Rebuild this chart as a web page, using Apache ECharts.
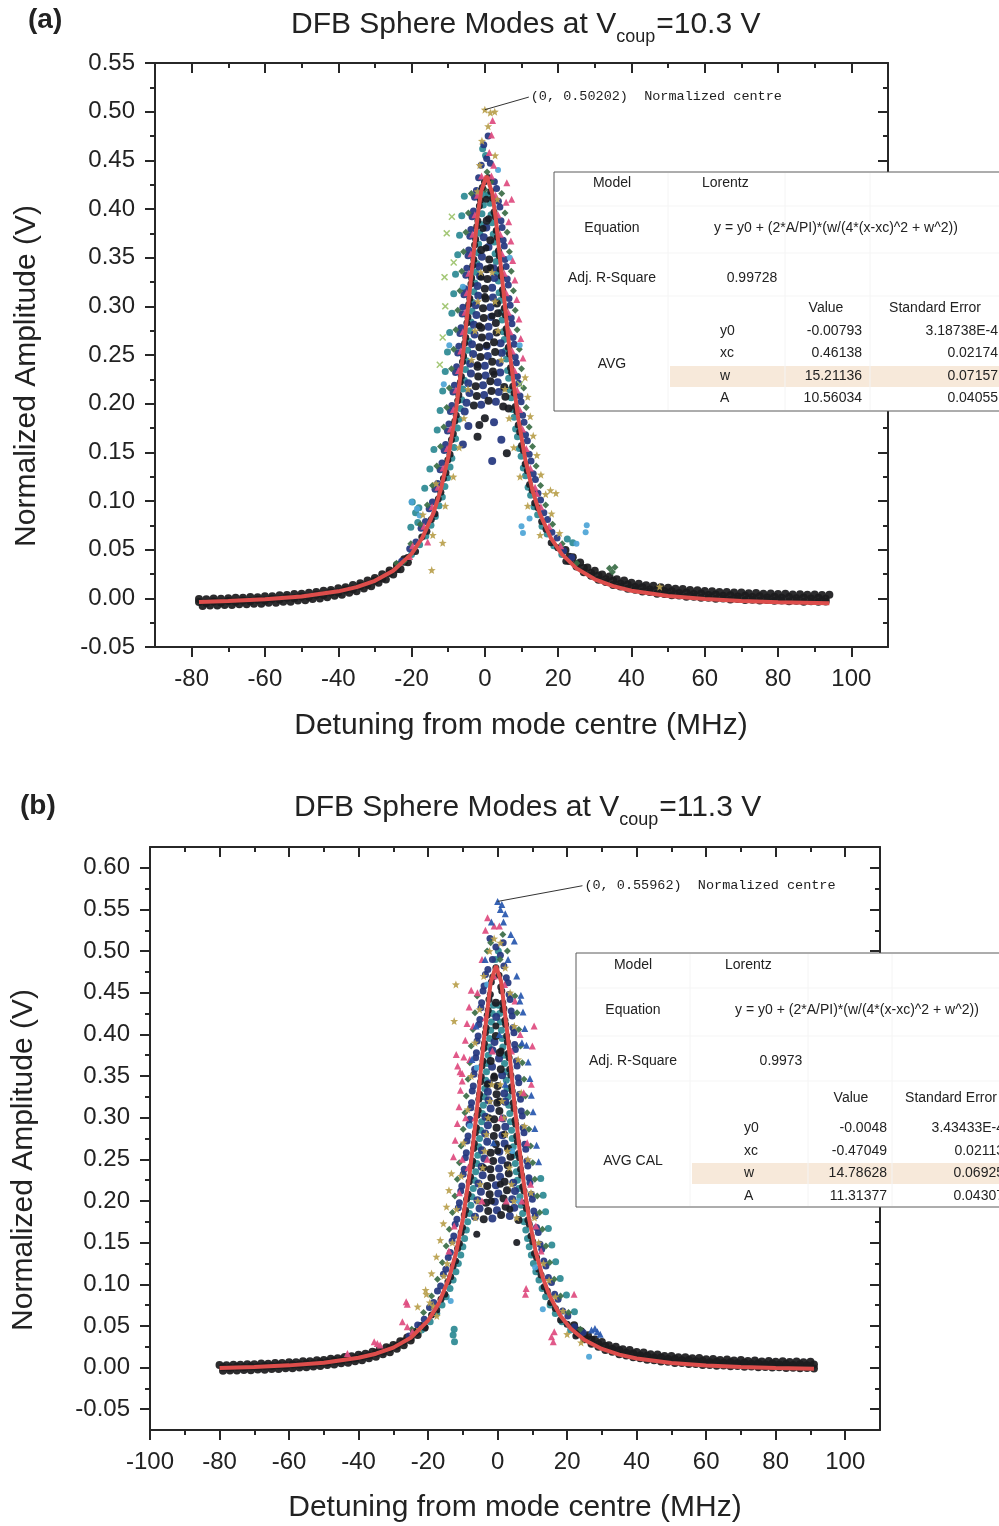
<!DOCTYPE html>
<html>
<head>
<meta charset="utf-8">
<title>DFB Sphere Modes</title>
<script src="https://cdn.jsdelivr.net/npm/echarts@6/dist/echarts.min.js"></script>
<style>
html,body{margin:0;padding:0;background:#ffffff;}
#chart{width:999px;height:1526px;}
</style>
</head>
<body>
<div id="chart"></div>
<script>
// ===================== Panel (a): Vcoup = 10.3 V =====================
const aXTicks = [-80, -60, -40, -20, 0, 20, 40, 60, 80, 100];
const aXMinor = [-70, -50, -30, -10, 10, 30, 50, 70, 90];
const aYTicks = [-0.05, 0, 0.05, 0.10, 0.15, 0.20, 0.25, 0.30, 0.35, 0.40, 0.45, 0.50, 0.55];
const aYMinor = [-0.025, 0.025, 0.075, 0.125, 0.175, 0.225, 0.275, 0.325, 0.375, 0.425, 0.475, 0.525];

// Lorentz fit (red line)
const aFitX = [-78,-70,-60,-50,-40,-35,-30,-25,-20,-17,-14,-12,-10,-8,-6,-4,-2,-1,0.46,2,3,5,7,9,11,13,15,18,21,25,30,35,40,50,60,70,80,94];
const aFitY = [-0.0038,-0.0028,-0.0010,0.0019,0.0072,0.0115,0.0180,0.0283,0.0457,0.0626,0.0878,0.1120,0.1449,0.1896,0.2488,0.3209,0.3922,0.4184,0.4340,0.4166,0.3897,0.3180,0.2461,0.1876,0.1434,0.1109,0.0870,0.0620,0.0454,0.0308,0.0196,0.0125,0.0078,0.0023,-0.0008,-0.0027,-0.0039,-0.0050];
const aCentre = [0, 0.50202];

// measured traces (x in MHz, amplitude in V), grouped by trace colour
const aTail = [
  [-78,-0.0006],[-76,-0.0009],[-74,-0.0002],[-72,-0.0004],[-70,0.0002],[-68,0.0007],[-66,0.0006],[-64,0.0013],[-62,0.0012],[-60,0.0022],
  [-58,0.0021],[-56,0.0031],[-54,0.0033],[-52,0.0044],[-50,0.0047],[-48,0.0058],[-46,0.0064],[-44,0.0078],[-42,0.0086],[-40,0.0104],
  [-38,0.0115],[-36,0.0137],[-34,0.0154],[-32,0.0183],[-30,0.0208],[-28,0.0247],[-26,0.0286],[-24,0.0342],[-22,0.0402],
  [-77,-0.0079],[-75,-0.0073],[-73,-0.0074],[-71,-0.0068],[-69,-0.0068],[-67,-0.0061],[-65,-0.0062],[-63,-0.0055],[-61,-0.0055],[-59,-0.0046],
  [-57,-0.0045],[-55,-0.0036],[-53,-0.0034],[-51,-0.0023],[-49,-0.0019],[-47,-0.0007],[-45,-0.0001],[-43,0.0010],[-41,0.0027],[-39,0.0037],
  [-37,0.0058],[-35,0.0073],[-33,0.0100],[-31,0.0123],[-29,0.0159],[-27,0.0194],[-25,0.0245],[-23,0.0300],[-21,0.0372],
  [22,0.0496],[24,0.0421],[26,0.0368],[28,0.0317],[30,0.0283],[32,0.0246],[34,0.0224],[36,0.0197],[38,0.0182],[40,0.0161],
  [42,0.0151],[44,0.0135],[46,0.0128],[48,0.0114],[50,0.0110],[52,0.0098],[54,0.0095],[56,0.0085],[58,0.0084],[60,0.0075],
  [62,0.0074],[64,0.0066],[66,0.0066],[68,0.0059],[70,0.0060],[72,0.0053],[74,0.0054],[76,0.0048],[78,0.0050],[80,0.0044],
  [82,0.0046],[84,0.0040],[86,0.0042],[88,0.0038],[90,0.0039],[92,0.0035],[94,0.0037],
  [23,0.0384],[25,0.0327],[27,0.0268],[29,0.0232],[31,0.0190],[33,0.0168],[35,0.0137],[37,0.0122],[39,0.0098],[41,0.0089],
  [43,0.0070],[45,0.0064],[47,0.0048],[49,0.0045],[51,0.0031],[53,0.0029],[55,0.0017],[57,0.0017],[59,0.0006],[61,0.0007],
  [63,-0.0003],[65,-0.0001],[67,-0.0011],[69,-0.0008],[71,-0.0017],[73,-0.0014],[75,-0.0022],[77,-0.0018],[79,-0.0026],[81,-0.0022],
  [83,-0.0030],[85,-0.0026],[87,-0.0034],[89,-0.0029],[91,-0.0036],[93,-0.0032]
];
const aTailMid = [
  [-78,-0.0037],[-76,-0.0047],[-74,-0.0033],[-72,-0.0042],[-70,-0.0027],[-68,-0.0036],[-66,-0.0021],[-64,-0.0030],[-62,-0.0014],[-60,-0.0021],
  [-58,-0.0005],[-56,-0.0012],[-54,0.0006],[-52,0.0001],[-50,0.0020],[-48,0.0016],[-46,0.0037],[-44,0.0035],[-42,0.0059],[-40,0.0061],
  [-38,0.0088],[-36,0.0094],[-34,0.0127],[-32,0.0140],[-30,0.0181],[-28,0.0204],[-26,0.0259],[-24,0.0299],[-22,0.0376],
  [23,0.0427],[25,0.0353],[27,0.0311],[29,0.0259],[31,0.0234],[33,0.0195],[35,0.0180],[37,0.0149],[39,0.0141],[41,0.0116],
  [43,0.0113],[45,0.0091],[47,0.0091],[49,0.0072],[51,0.0074],[53,0.0056],[55,0.0060],[57,0.0044],[59,0.0049],[61,0.0034],
  [63,0.0040],[65,0.0026],[67,0.0032],[69,0.0019],[71,0.0026],[73,0.0013],[75,0.0021],[77,0.0009],[79,0.0017],[81,0.0005],
  [83,0.0013],[85,0.0001],[87,0.0009],[89,-0.0002],[91,0.0007],[93,-0.0005]
];
const aBlack = [
  [-21.1,0.042],[22.1,0.038],[-18.9,0.048],[19.9,0.052],[-17.2,0.063],[18.1,0.057],[-15.8,0.069],[16.7,0.071],[-14.6,0.081],[15.5,0.079],
  [-13.6,0.087],[14.5,0.093],[-12.7,0.102],[13.6,0.098],[-12.0,0.109],[12.9,0.111],[-11.3,0.123],[12.2,0.117],[-10.6,0.129],[11.6,0.131],
  [-10.1,0.142],[11.0,0.138],[-9.5,0.148],[10.5,0.152],[-9.1,0.163],[10.0,0.157],[-8.6,0.169],[9.5,0.171],[-8.2,0.182],[9.1,0.178],
  [-7.8,0.188],[8.7,0.192],[-7.4,0.203],[8.3,0.197],[-7.1,0.209],[8.0,0.211],[-6.7,0.222],[7.6,0.218],[-6.4,0.228],[7.3,0.232],
  [-6.1,0.243],[7.0,0.237],[-5.8,0.249],[6.7,0.251],[-5.5,0.262],[6.4,0.258],[-5.2,0.268],[6.1,0.272],[-4.9,0.283],[5.8,0.277],
  [-4.6,0.289],[5.6,0.291],[-4.4,0.302],[5.3,0.298],[-4.1,0.308],[5.0,0.312],[-3.8,0.323],[4.8,0.317],[-3.6,0.329],[4.5,0.331],
  [-3.3,0.342],[4.2,0.338],[-3.0,0.348],[3.9,0.352],[-2.8,0.363],[3.7,0.357],[-2.5,0.369],[3.4,0.371],[-2.2,0.382],[3.1,0.378],
  [-1.9,0.388],[2.8,0.392],[-1.5,0.403],[2.5,0.397],[-1.2,0.409],[2.1,0.411],[-0.7,0.422],[1.6,0.418],[-0.1,0.428],[1.0,0.432],
  [0.5,0.26],[-1.5,0.28],[2.0,0.29],[0.0,0.31],[-1.0,0.33],[1.5,0.34],[0.3,0.36],[-0.5,0.38],[1.0,0.39],[0.4,0.41],[-2.0,0.24],[2.5,0.23]
];
const aInnerNavy = [
  [-5.0,0.201],[-1.0,0.199],[3.0,0.202],[-4.2,0.211],[-0.2,0.209],[3.8,0.212],[-4.5,0.221],[-0.5,0.219],[3.5,0.222],[-3.8,0.231],
  [0.2,0.229],[4.2,0.232],[-4.0,0.241],[0.0,0.239],[4.0,0.242],[-3.2,0.251],[0.8,0.249],[4.6,0.252],[-3.5,0.261],[0.5,0.259],
  [4.3,0.262],[-2.8,0.271],[1.2,0.269],[-3.0,0.281],[1.0,0.279],[-2.3,0.291],[1.7,0.289],[-2.5,0.301],[1.5,0.299],[-1.8,0.311],
  [2.2,0.309],[-2.0,0.321],[2.0,0.319],[-1.3,0.331],[2.6,0.329],[-1.5,0.341],[2.4,0.339],[-0.8,0.351],[1.0,0.361],[-0.3,0.371],
  [0.4,0.381],[-6.0,0.158],[2.0,0.141],[-4.5,0.177],[4.5,0.163],[-5.5,0.192],[2.5,0.181]
];
const aInnerBlack = [
  [-3.0,0.198],[1.0,0.203],[5.0,0.197],[-2.2,0.208],[1.8,0.213],[5.6,0.207],[-2.5,0.218],[1.5,0.223],[5.3,0.217],[-1.8,0.228],
  [2.2,0.233],[-2.0,0.238],[2.0,0.243],[-1.2,0.248],[2.8,0.253],[-1.5,0.258],[2.5,0.263],[-0.8,0.268],[3.2,0.273],[-1.0,0.278],
  [3.0,0.283],[-0.3,0.288],[3.6,0.293],[-0.5,0.298],[3.3,0.303],[0.2,0.308],[0.0,0.318],[0.7,0.328],[0.5,0.338],[1.2,0.348],
  [-1.0,0.358],[1.5,0.368],[0.5,0.388],[-2.0,0.166],[6.0,0.149],[0.0,0.185],[-1.5,0.178],[6.5,0.195]
];
const aNavy = [
  [-22.7,0.038],[23.7,0.042],[-20.5,0.051],[21.5,0.049],[-18.8,0.058],[19.7,0.062],[-17.4,0.072],[18.3,0.068],[-16.2,0.079],[17.1,0.081],
  [-15.2,0.092],[16.1,0.088],[-14.3,0.099],[15.2,0.101],[-13.6,0.112],[14.5,0.108],[-12.9,0.118],[13.8,0.122],[-12.2,0.132],[13.2,0.128],
  [-11.7,0.139],[12.6,0.141],[-11.1,0.152],[12.1,0.148],[-10.7,0.158],[11.6,0.162],[-10.2,0.172],[11.1,0.168],[-9.8,0.179],[10.7,0.181],
  [-9.4,0.192],[10.3,0.188],[-9.0,0.198],[9.9,0.202],[-8.7,0.212],[9.6,0.208],[-8.3,0.219],[9.2,0.221],[-8.0,0.232],[8.9,0.228],
  [-7.7,0.238],[8.6,0.242],[-7.4,0.252],[8.3,0.248],[-7.1,0.259],[8.0,0.261],[-6.8,0.272],[7.7,0.268],[-6.5,0.278],[7.4,0.282],
  [-6.2,0.292],[7.2,0.288],[-6.0,0.299],[6.9,0.301],[-5.7,0.312],[6.6,0.308],[-5.4,0.318],[6.4,0.322],[-5.2,0.332],[6.1,0.328],
  [-4.9,0.339],[5.8,0.341],[-4.6,0.352],[5.5,0.348],[-4.4,0.358],[5.3,0.362],[-4.1,0.372],[5.0,0.368],[-3.8,0.379],[4.7,0.381],
  [-3.5,0.392],[4.4,0.388],[-3.1,0.398],[4.1,0.402],[-2.8,0.412],[3.7,0.408],[-2.3,0.419],[3.2,0.421],[-1.7,0.432],[2.6,0.428],
  [-1.0,0.445],[0.5,0.452],[1.5,0.447],[-0.3,0.466],[0.9,0.475]
];
const aTeal = [
  [-20.0,0.045],[21.0,0.045],[-17.8,0.055],[18.8,0.054],[-16.1,0.064],[17.0,0.066],[-14.7,0.075],[15.6,0.074],[-13.5,0.084],[14.4,0.086],
  [-12.5,0.095],[13.4,0.094],[-11.6,0.104],[12.5,0.106],[-10.9,0.115],[11.8,0.114],[-10.2,0.124],[11.1,0.126],[-9.5,0.135],[10.5,0.134],
  [-9.0,0.144],[9.9,0.146],[-8.4,0.155],[9.4,0.154],[-8.0,0.164],[8.9,0.166],[-7.5,0.175],[8.4,0.174],[-7.1,0.184],[8.0,0.186],
  [-6.7,0.195],[7.6,0.194],[-6.3,0.204],[7.2,0.206],[-6.0,0.215],[6.9,0.214],[-5.6,0.224],[6.5,0.226],[-5.3,0.235],[6.2,0.234],
  [-5.0,0.244],[5.9,0.246],[-4.7,0.255],[5.6,0.254],[-4.4,0.264],[5.3,0.266],[-4.1,0.275],[5.0,0.274],[-3.8,0.284],[4.7,0.286],
  [-3.5,0.295],[4.5,0.294],[-3.3,0.304],[4.2,0.306],[-3.0,0.315],[3.9,0.314],[-2.7,0.324],[3.7,0.326],[-2.5,0.335],[3.4,0.334],
  [-2.2,0.344],[3.1,0.346],[-1.9,0.355],[2.8,0.354],[-1.7,0.364],[2.6,0.366],[-1.4,0.375],[2.3,0.374],[-1.1,0.384],[2.0,0.386],
  [-0.8,0.395],[1.7,0.394],[-0.4,0.404],[1.4,0.406],[0.0,0.415],[1.0,0.414],
  [-19.8,0.099],[-18.9,0.088],[-18.3,0.078],[24.0,0.057],[22.5,0.061],[-0.6,0.462],[0.2,0.455],
  [-20.2,0.073],[-18.0,0.093],[-16.4,0.113],[-15.0,0.133],[-13.9,0.153],[-13.0,0.173],[-12.2,0.193],[-11.5,0.213],[-10.8,0.233],[-10.2,0.253],
  [-9.6,0.273],[-9.0,0.293],[-8.5,0.313],[-8.0,0.333],[-7.4,0.353],[-6.9,0.373],[-6.3,0.393],[-5.6,0.413]
];
const aGreen = [
  [-24.1,0.036],[25.1,0.036],[-20.2,0.056],[21.1,0.056],[-17.6,0.076],[18.5,0.076],[-15.7,0.096],[16.6,0.096],[-14.3,0.116],[15.2,0.116],
  [-13.1,0.136],[14.0,0.136],[-12.1,0.156],[13.0,0.156],[-11.2,0.176],[12.1,0.176],[-10.4,0.196],[11.3,0.196],[-9.7,0.216],[10.6,0.216],
  [-9.1,0.236],[10.0,0.236],[-8.5,0.256],[9.4,0.256],[-7.9,0.276],[8.8,0.276],[-7.4,0.296],[8.3,0.296],[-6.8,0.316],[7.8,0.316],
  [-6.3,0.336],[7.2,0.336],[-5.8,0.356],[6.7,0.356],[-5.2,0.376],[6.1,0.376],[-4.5,0.396],[5.5,0.396],[-3.7,0.416],[4.6,0.416],
  [0.0,0.420],[0.6,0.438],[1.7,0.428],[34.0,0.031],[34.8,0.027],[35.5,0.032],[-22.0,0.038]
];
const aPink = [
  [-19.7,0.054],[20.7,0.054],[-16.6,0.074],[17.5,0.074],[-14.4,0.094],[15.3,0.094],[-12.8,0.114],[13.7,0.114],[-11.4,0.134],[12.4,0.134],
  [-10.3,0.154],[11.3,0.154],[-9.4,0.174],[10.3,0.174],[-8.6,0.194],[9.5,0.194],[-7.9,0.214],[8.8,0.214],[-7.2,0.234],[8.1,0.234],
  [-6.6,0.254],[7.5,0.254],[-6.0,0.274],[6.9,0.274],[-5.4,0.294],[6.4,0.294],[-4.9,0.314],[5.8,0.314],[-4.4,0.334],[5.3,0.334],
  [-3.8,0.354],[4.7,0.354],[-3.3,0.374],[4.2,0.374],[-2.7,0.394],[3.6,0.394],[-2.0,0.414],[2.9,0.414],[-0.9,0.434],[1.8,0.434],
  [2.1,0.491],[1.8,0.476],[1.2,0.458],[2.4,0.445],[6.0,0.427],[7.3,0.410],[14.1,0.108],[-15.6,0.058],[-20.5,0.043],
  [10.4,0.247],[9.8,0.267],[9.3,0.287],[8.7,0.307],[8.2,0.327],[7.6,0.347],[7.1,0.367],[6.5,0.387],[5.8,0.407]
];
const aGold = [
  [0,0.50202],[1.5,0.499],[2.7,0.500],[0.9,0.485],[-0.8,0.470],[-1.4,0.445],[2.8,0.455],[3.4,0.410],[-2.0,0.418],
  [-14.2,0.065],[15.1,0.065],[-10.8,0.095],[11.7,0.095],[-8.6,0.125],[9.6,0.125],[-7.0,0.155],[7.9,0.155],[-5.7,0.185],[6.6,0.185],
  [-4.6,0.215],[5.5,0.215],[-3.6,0.245],[4.5,0.245],[-2.7,0.275],[3.6,0.275],[-1.9,0.305],[2.8,0.305],[-1.1,0.335],[2.0,0.335],
  [17.9,0.111],[19.4,0.108],[47.7,0.012],[-11.5,0.057],[-14.5,0.029],[-13.3,0.118],[-16.9,0.086],
  [20.4,0.067],[18.2,0.087],[16.6,0.107],[15.3,0.127],[14.2,0.147],[13.2,0.167],[12.4,0.187],[11.7,0.207],[11.0,0.227]
];
const aSky = [
  [-20.0,0.099],[-18.5,0.092],[-17.8,0.085],[10.0,0.074],[10.4,0.067],[12.2,0.082],[27.8,0.075],[27.5,0.068],[25.0,0.056],[-11.2,0.220],
  [-9.7,0.260],[3.6,0.440],[6.8,0.350],[9.5,0.260],[-6.0,0.320]
];
const aLime = [
  [-9.0,0.392],[-10.4,0.375],[-11.0,0.330],[-11.5,0.268],[-10.8,0.300],[-8.5,0.345],[-12.3,0.240],[9.6,0.220]
];

// fit report (a)
const aFitModel = ['Lorentz', 'y = y0 + (2*A/PI)*(w/(4*(x-xc)^2 + w^2))', '0.99728', 'AVG'];
const aFitValues = ['-0.00793', '0.46138', '15.21136', '10.56034'];
const aFitErrors = ['3.18738E-4', '0.02174', '0.07157', '0.04055'];

// ===================== Panel (b): Vcoup = 11.3 V =====================
const bXTicks = [-100, -80, -60, -40, -20, 0, 20, 40, 60, 80, 100];
const bXMinor = [-90, -70, -50, -30, -10, 10, 30, 50, 70, 90];
const bYTicks = [-0.05, 0, 0.05, 0.10, 0.15, 0.20, 0.25, 0.30, 0.35, 0.40, 0.45, 0.50, 0.55, 0.60];
const bYMinor = [-0.025, 0.025, 0.075, 0.125, 0.175, 0.225, 0.275, 0.325, 0.375, 0.425, 0.475, 0.525, 0.575];

const bFitX = [-80,-70,-60,-50,-40,-35,-30,-25,-20,-17,-14,-12,-10,-8,-6,-4,-2,-0.47,1,3,5,7,9,11,13,15,18,21,25,30,35,40,50,60,70,80,91];
const bFitY = [-0.0006,0.0007,0.0026,0.0058,0.0117,0.0166,0.0239,0.0358,0.0563,0.0764,0.1072,0.1371,0.1782,0.2343,0.3076,0.3919,0.4623,0.4823,0.4638,0.3944,0.3100,0.2363,0.1797,0.1382,0.1080,0.0858,0.0625,0.0468,0.0331,0.0223,0.0155,0.0109,0.0054,0.0024,0.0005,-0.0007,-0.0016];
const bCentre = [0, 0.55962];

const bTail = [
  [-80,0.0029],[-78,0.0027],[-76,0.0033],[-74,0.0032],[-72,0.0040],[-70,0.0040],[-68,0.0047],[-66,0.0046],[-64,0.0054],[-62,0.0054],
  [-60,0.0063],[-58,0.0064],[-56,0.0074],[-54,0.0076],[-52,0.0087],[-50,0.0091],[-48,0.0104],[-46,0.0110],[-44,0.0126],[-42,0.0135],
  [-40,0.0154],[-38,0.0167],[-36,0.0191],[-34,0.0211],[-32,0.0243],[-30,0.0272],[-28,0.0317],[-26,0.0362],[-24,0.0427],[-22,0.0499],
  [-79,-0.0040],[-77,-0.0036],[-75,-0.0037],[-73,-0.0031],[-71,-0.0032],[-69,-0.0025],[-67,-0.0026],[-65,-0.0018],[-63,-0.0018],[-61,-0.0010],
  [-59,-0.0009],[-57,0.0001],[-55,0.0003],[-53,0.0013],[-51,0.0017],[-49,0.0029],[-47,0.0035],[-45,0.0050],[-43,0.0058],[-41,0.0076],
  [-39,0.0088],[-37,0.0111],[-35,0.0129],[-33,0.0159],[-31,0.0185],[-29,0.0226],[-27,0.0267],[-25,0.0326],[-23,0.0390],[-21,0.0478],
  [23,0.0402],[25,0.0341],[27,0.0286],[29,0.0250],[31,0.0212],[33,0.0189],[35,0.0160],[37,0.0145],[39,0.0122],[41,0.0112],
  [43,0.0094],[45,0.0087],[47,0.0072],[49,0.0068],[51,0.0055],[53,0.0053],[55,0.0042],[57,0.0041],[59,0.0031],[61,0.0031],
  [63,0.0022],[65,0.0023],[67,0.0015],[69,0.0017],[71,0.0009],[73,0.0011],[75,0.0003],[77,0.0006],[79,-0.0001],[81,0.0002],
  [83,-0.0005],[85,-0.0002],[87,-0.0008],[89,-0.0005],[91,-0.0011],
  [22,0.0508],[24,0.0436],[26,0.0389],[28,0.0336],[30,0.0307],[32,0.0269],[34,0.0251],[36,0.0221],[38,0.0210],[40,0.0186],
  [42,0.0180],[44,0.0159],[46,0.0156],[48,0.0139],[50,0.0138],[52,0.0123],[54,0.0124],[56,0.0110],[58,0.0113],[60,0.0100],
  [62,0.0103],[64,0.0091],[66,0.0096],[68,0.0085],[70,0.0089],[72,0.0079],[74,0.0084],[76,0.0073],[78,0.0079],[80,0.0069],
  [82,0.0075],[84,0.0065],[86,0.0072],[88,0.0062],[90,0.0069]
];
const bTailMid = [
  [-79,0.0003],[-77,-0.0002],[-75,0.0008],[-73,0.0004],[-71,0.0013],[-69,0.0010],[-67,0.0019],[-65,0.0017],[-63,0.0027],[-61,0.0025],
  [-59,0.0036],[-57,0.0036],[-55,0.0048],[-53,0.0048],[-51,0.0062],[-49,0.0064],[-47,0.0080],[-45,0.0085],[-43,0.0103],[-41,0.0111],
  [-39,0.0133],[-37,0.0146],[-35,0.0174],[-33,0.0194],[-31,0.0230],[-29,0.0261],[-27,0.0312],[-25,0.0361],[-23,0.0435],
  [23,0.0445],[25,0.0374],[27,0.0334],[29,0.0283],[31,0.0260],[33,0.0222],[35,0.0208],[37,0.0178],[39,0.0170],[41,0.0145],
  [43,0.0142],[45,0.0120],[47,0.0120],[49,0.0101],[51,0.0103],[53,0.0086],[55,0.0090],[57,0.0074],[59,0.0079],[61,0.0064],
  [63,0.0070],[65,0.0056],[67,0.0063],[69,0.0050],[71,0.0057],[73,0.0044],[75,0.0051],[77,0.0039],[79,0.0047],[81,0.0035],
  [83,0.0043],[85,0.0031],[87,0.0040],[89,0.0028],[91,0.0037]
];
const bBlack = [
  [-23.4,0.042],[22.5,0.038],[-20.9,0.048],[20.0,0.052],[-19.0,0.063],[18.1,0.057],[-17.5,0.069],[16.6,0.071],[-16.3,0.082],[15.3,0.078],
  [-15.2,0.088],[14.3,0.092],[-14.3,0.103],[13.4,0.097],[-13.5,0.109],[12.5,0.111],[-12.8,0.122],[11.8,0.118],[-12.1,0.128],[11.2,0.132],
  [-11.5,0.143],[10.6,0.137],[-11.0,0.149],[10.1,0.151],[-10.5,0.162],[9.6,0.158],[-10.1,0.168],[9.1,0.172],[-9.6,0.183],[8.7,0.177],
  [-9.2,0.189],[8.3,0.191],[-8.9,0.202],[7.9,0.198],[-8.5,0.208],[7.6,0.212],[-8.2,0.223],[7.2,0.217],[-7.8,0.229],[6.9,0.231],
  [-7.5,0.242],[6.6,0.238],[-7.2,0.248],[6.3,0.252],[-6.9,0.263],[6.0,0.257],[-6.7,0.269],[5.7,0.271],[-6.4,0.282],[5.5,0.278],
  [-6.1,0.288],[5.2,0.292],[-5.9,0.303],[5.0,0.297],[-5.6,0.309],[4.7,0.311],[-5.4,0.322],[4.5,0.318],[-5.2,0.328],[4.2,0.332],
  [-4.9,0.343],[4.0,0.337],[-4.7,0.349],[3.8,0.351],[-4.5,0.362],[3.5,0.358],[-4.2,0.368],[3.3,0.372],[-4.0,0.383],[3.0,0.377],
  [-3.8,0.389],[2.8,0.391],[-3.5,0.402],[2.6,0.398],[-3.3,0.408],[2.3,0.412],[-3.0,0.423],[2.1,0.417],[-2.7,0.429],[1.8,0.431],
  [-2.5,0.442],[1.5,0.438],[-2.1,0.448],[1.2,0.452],[-1.8,0.463],[0.9,0.457],[-1.4,0.469],[0.4,0.471],
  [-0.5,0.48],[-2.5,0.30],[-1.0,0.35],[0.5,0.32],[2.0,0.28],[-4.0,0.24],[-1.8,0.20],[0.8,0.22],[3.5,0.19],[-0.5,0.41],
  [1.0,0.38],[-6.0,0.16],[5.5,0.15],[0.0,0.26],[-3.0,0.34],[1.5,0.43]
];
const bInnerNavy = [
  [-6.5,0.181],[-1.5,0.179],[3.5,0.182],[-5.2,0.191],[-0.2,0.189],[4.8,0.192],[-5.8,0.201],[-0.8,0.199],[4.2,0.202],[-4.8,0.211],
  [0.2,0.209],[5.0,0.212],[-5.5,0.221],[-0.5,0.219],[4.5,0.222],[-4.3,0.231],[0.7,0.229],[-4.6,0.241],[0.4,0.239],[-3.8,0.251],
  [1.2,0.249],[-4.5,0.261],[0.5,0.259],[-3.0,0.271],[2.0,0.269],[-3.6,0.281],[1.4,0.279],[-2.8,0.291],[2.2,0.289],[-3.5,0.301],
  [1.5,0.299],[-2.0,0.311],[-2.6,0.321],[2.2,0.319],[-2.8,0.331],[1.9,0.329],[-2.5,0.341],[1.3,0.351],[-1.6,0.361],[0.4,0.371],
  [-1.5,0.381],[-0.9,0.391],[-0.4,0.421]
];
const bInnerBlack = [
  [-4.0,0.178],[1.0,0.183],[6.0,0.177],[-2.7,0.188],[2.3,0.193],[-3.3,0.198],[1.7,0.203],[-2.3,0.208],[2.7,0.213],[-3.0,0.218],
  [2.0,0.223],[-1.8,0.228],[3.2,0.233],[-2.1,0.238],[2.9,0.243],[-1.3,0.248],[3.7,0.253],[-2.0,0.258],[3.0,0.263],[-0.5,0.268],
  [-1.1,0.278],[-0.3,0.288],[-1.0,0.298],[0.5,0.308],[-0.1,0.318],[-0.3,0.328],[0.0,0.338],[-1.0,0.348],[0.9,0.358],[-2.0,0.368],
  [0.6,0.378],[-0.5,0.398],[-0.5,0.438]
];
const bNavy = [
  [-25.5,0.038],[24.6,0.042],[-23.0,0.051],[22.1,0.049],[-21.1,0.058],[20.2,0.062],[-19.6,0.072],[18.7,0.068],[-18.4,0.078],[17.4,0.082],
  [-17.3,0.092],[16.4,0.088],[-16.4,0.098],[15.5,0.102],[-15.6,0.112],[14.6,0.108],[-14.9,0.118],[13.9,0.122],[-14.2,0.132],[13.3,0.128],
  [-13.6,0.138],[12.7,0.142],[-13.1,0.152],[12.2,0.148],[-12.6,0.158],[11.7,0.162],[-12.2,0.172],[11.2,0.168],[-11.7,0.178],[10.8,0.182],
  [-11.3,0.192],[10.4,0.188],[-11.0,0.198],[10.0,0.202],[-10.6,0.212],[9.7,0.208],[-10.3,0.218],[9.3,0.222],[-9.9,0.232],[9.0,0.228],
  [-9.6,0.238],[8.7,0.242],[-9.3,0.252],[8.4,0.248],[-9.0,0.258],[8.1,0.262],[-8.8,0.272],[7.8,0.268],[-8.5,0.278],[7.6,0.282],
  [-8.2,0.292],[7.3,0.288],[-8.0,0.298],[7.1,0.302],[-7.7,0.312],[6.8,0.308],[-7.5,0.318],[6.6,0.322],[-7.3,0.332],[6.3,0.328],
  [-7.0,0.338],[6.1,0.342],[-6.8,0.352],[5.9,0.348],[-6.6,0.358],[5.6,0.362],[-6.3,0.372],[5.4,0.368],[-6.1,0.378],[5.1,0.382],
  [-5.9,0.392],[4.9,0.388],[-5.6,0.398],[4.7,0.402],[-5.4,0.412],[4.4,0.408],[-5.1,0.418],[4.2,0.422],[-4.8,0.432],[3.9,0.428],
  [-4.6,0.438],[3.6,0.442],[-4.2,0.452],[3.3,0.448],[-3.9,0.458],[3.0,0.462],[-3.5,0.472],[2.5,0.468],[-2.8,0.478],[1.8,0.482],
  [-1.5,0.49],[0.8,0.495],[-0.5,0.505],[1.6,0.51],[-2.2,0.515]
];
const bTeal = [
  [-21.9,0.045],[21.0,0.045],[-19.4,0.055],[18.5,0.055],[-17.5,0.065],[16.6,0.065],[-16.0,0.075],[15.1,0.075],[-14.8,0.085],[13.8,0.085],
  [-13.7,0.095],[12.8,0.095],[-12.8,0.105],[11.9,0.105],[-12.0,0.115],[11.0,0.115],[-11.3,0.125],[10.3,0.125],[-10.6,0.135],[9.7,0.135],
  [-10.0,0.145],[9.1,0.145],[-9.5,0.155],[8.6,0.155],[-9.0,0.165],[8.1,0.165],[-8.6,0.175],[7.6,0.175],[-8.1,0.185],[7.2,0.185],
  [-7.7,0.195],[6.8,0.195],[-7.4,0.205],[6.4,0.205],[-7.0,0.215],[6.1,0.215],[-6.7,0.225],[5.7,0.225],[-6.3,0.235],[5.4,0.235],
  [-6.0,0.245],[5.1,0.245],[-5.7,0.255],[4.8,0.255],[-5.4,0.265],[4.5,0.265],[-5.2,0.275],[4.2,0.275],[-4.9,0.285],[4.0,0.285],
  [-4.6,0.295],[3.7,0.295],[-4.4,0.305],[3.5,0.305],[-4.1,0.315],[3.2,0.315],[-3.9,0.325],[3.0,0.325],[-3.7,0.335],[2.7,0.335],
  [-3.4,0.345],[2.5,0.345],[-3.2,0.355],[2.3,0.355],[-3.0,0.365],[2.0,0.365],[-2.7,0.375],[1.8,0.375],[-2.5,0.385],[1.5,0.385],
  [-2.3,0.395],[1.3,0.395],[-2.0,0.405],[1.1,0.405],[-1.8,0.415],[0.8,0.415],[-1.5,0.425],[0.6,0.425],[-1.2,0.435],[0.3,0.435],
  [-12.5,0.046],[-12.4,0.031],[-12.8,0.039],[0.2,0.500],[-0.6,0.490],
  [22.1,0.067],[19.8,0.087],[18.0,0.107],[16.7,0.127],[15.6,0.147],[14.6,0.167],[13.8,0.187],[13.1,0.207],[12.4,0.227]
];
const bGreen = [
  [-24.7,0.046],[23.8,0.046],[-21.3,0.066],[20.4,0.066],[-19.0,0.086],[18.1,0.086],[-17.3,0.106],[16.3,0.106],[-15.9,0.126],[15.0,0.126],
  [-14.8,0.146],[13.9,0.146],[-13.9,0.166],[12.9,0.166],[-13.0,0.186],[12.1,0.186],[-12.3,0.206],[11.4,0.206],[-11.6,0.226],[10.7,0.226],
  [-11.0,0.246],[10.1,0.246],[-10.5,0.266],[9.5,0.266],[-9.9,0.286],[9.0,0.286],[-9.4,0.306],[8.5,0.306],[-9.0,0.326],[8.0,0.326],
  [-8.5,0.346],[7.6,0.346],[-8.0,0.366],[7.1,0.366],[-7.6,0.386],[6.6,0.386],[-7.1,0.406],[6.1,0.406],[-6.5,0.426],[5.6,0.426],
  [-5.9,0.446],[5.0,0.446],[-3.0,0.500],[-2.0,0.510],[1.5,0.520],[2.8,0.500],[0.7,0.490]
];
const bPink = [
  [-11.9,0.376],[-11.5,0.362],[-10.2,0.344],[-10.8,0.355],[10.5,0.410],[10.0,0.386],[9.7,0.340],[-2.9,0.540],[-3.5,0.525],[-1.0,0.530],
  [0.5,0.530],[-4.5,0.490],[-5.8,0.450],[-7.0,0.410],[-8.0,0.370],[-9.2,0.300],[-10.2,0.250],[-11.0,0.210],[-12.5,0.170],[-14.0,0.140],
  [-26.3,0.079],[-26.0,0.076],[-27.4,0.055],[-24.5,0.043],[-26.0,0.049],[-34.6,0.029],[-35.5,0.031],[-33.8,0.027],[-43.2,0.017],[8.2,0.095],
  [8.0,0.088],[16.3,0.043],[16.0,0.031],[15.5,0.037],[22.0,0.088],[5.0,0.440],[6.5,0.400],[7.5,0.330],[8.5,0.270],[9.5,0.220],
  [11.0,0.170],[12.5,0.140],[-1.5,0.380],[1.0,0.300],[-3.0,0.250],[2.5,0.200],[-6.5,0.300],[-3.5,0.420],[2.0,0.460],[4.0,0.380],
  [-8.5,0.240],[7.0,0.200],[-1.0,0.470],[-4.5,0.200],
  [-12.7,0.253],[-12.2,0.273],[-11.6,0.293],[-11.1,0.313],[-10.7,0.333],[-10.2,0.353],[-9.7,0.373],[-9.3,0.393],[-8.8,0.413],[-8.2,0.433],
  [-7.6,0.453]
];
const bGold = [
  [-6.4,0.180],[5.5,0.180],[-5.7,0.200],[4.7,0.200],[-5.0,0.220],[4.0,0.220],[-4.3,0.240],[3.4,0.240],[-3.7,0.260],[2.8,0.260],
  [-3.2,0.280],[2.3,0.280],[-2.7,0.300],[1.8,0.300],[-2.2,0.320],[1.3,0.320],[-1.7,0.340],[0.8,0.340],
  [-20.5,0.088],[-19.5,0.078],[-18.5,0.074],[-15.5,0.110],[-14.5,0.125],[-13.0,0.150],[-11.8,0.190],[-10.5,0.230],[-9.8,0.270],[-8.6,0.310],
  [-7.6,0.350],[-6.5,0.390],[-5.2,0.430],[-4.0,0.470],[-2.3,0.500],[-1.0,0.515],[0.8,0.510],[2.2,0.480],[3.6,0.450],[4.8,0.410],
  [5.9,0.370],[6.8,0.330],[7.7,0.290],[8.7,0.250],[9.6,0.210],[10.6,0.180],[11.8,0.150],[13.2,0.125],[14.8,0.105],[16.6,0.085],
  [18.8,0.068],[-17.5,0.062],[-22.5,0.046],[-12.0,0.460],[-12.5,0.416],[20.0,0.040],[24.0,0.030],
  [-23.0,0.073],[-20.7,0.093],[-19.0,0.113],[-17.6,0.133],[-16.5,0.153],[-15.6,0.173],[-14.7,0.193],[-14.0,0.213],[-13.3,0.233]
];
const bBlue = [
  [0,0.55962],[1.2,0.556],[0.8,0.550],[2.2,0.545],[4.8,0.512],[3.8,0.520],[-1.8,0.535],[1.7,0.535],[3.0,0.490],[-3.6,0.490],
  [5.5,0.470],[6.4,0.440],[7.0,0.390],[-6.2,0.410],[-7.4,0.370],[28.7,0.043],[28.0,0.047],[29.5,0.040],[27.0,0.045],[-1.2,0.270],
  [0.5,0.400],[2.2,0.340],
  [11.8,0.247],[11.2,0.267],[10.7,0.287],[10.2,0.307],[9.7,0.327],[9.3,0.347],[8.8,0.367],[8.3,0.387],[7.8,0.407],[7.3,0.427],[6.7,0.447]
];
const bSky = [
  [26.3,0.013],[-8.0,0.290],[-6.0,0.360],[6.0,0.200],[4.2,0.260],[-3.0,0.460],[10.8,0.120],[-13.5,0.080],[13.0,0.070]
];

// fit report (b)
const bFitModel = ['Lorentz', 'y = y0 + (2*A/PI)*(w/(4*(x-xc)^2 + w^2))', '0.9973', 'AVG CAL'];
const bFitValues = ['-0.0048', '-0.47049', '14.78628', '11.31377'];
const bFitErrors = ['3.43433E-4', '0.02113', '0.06925', '0.04307'];
const fitParams = ['y0', 'xc', 'w', 'A'];

// ===================== drawing =====================
const FONT = '"Liberation Sans", Arial, Helvetica, sans-serif';
const INK = '#272727';
const STAR = 'path://M5,0L6.3,3.4L10,3.6L7.1,5.9L8.1,9.5L5,7.5L1.9,9.5L2.9,5.9L0,3.6L3.7,3.4Z';
const CROSS = 'path://M0,1.5L1.5,0L5,3.5L8.5,0L10,1.5L6.5,5L10,8.5L8.5,10L5,6.5L1.5,10L0,8.5L3.5,5Z';
const LOOK = {
  tail:  { color: '#1c1c1e', symbol: 'circle' },
  black: { color: '#1a1c22', symbol: 'circle' },
  navy:  { color: '#25377f', symbol: 'circle' },
  teal:  { color: '#2d8a93', symbol: 'circle' },
  green: { color: '#3b6e47', symbol: 'diamond' },
  pink:  { color: '#df4c80', symbol: 'triangle' },
  gold:  { color: '#b9a04e', symbol: STAR },
  blue:  { color: '#2857ae', symbol: 'triangle' },
  sky:   { color: '#4ea5d6', symbol: 'circle' },
  lime:  { color: '#9cc36c', symbol: CROSS }
};

function axesFor(gi, xr, yr, xMaj, xMin, yMaj, yMin) {
  const line = { color: INK, width: 2 };
  const lab = { fontSize: 24, color: '#222', fontFamily: FONT, margin: 20 };
  const base = (extra) => Object.assign({ gridIndex: gi, type: 'value', splitLine: { show: false }, silent: true }, extra);
  const xs = [
    base({ position: 'bottom', min: xr[0], max: xr[1],
      axisLine: { show: true, onZero: false, lineStyle: line },
      axisTick: { show: true, customValues: xMaj, length: 10, lineStyle: line },
      axisLabel: Object.assign({ show: true, customValues: xMaj, formatter: v => String(v) }, lab) }),
    base({ position: 'bottom', min: xr[0], max: xr[1],
      axisLine: { show: false, onZero: false },
      axisTick: { show: true, customValues: xMin, length: 5, lineStyle: line },
      axisLabel: { show: false } }),
    base({ position: 'top', min: xr[0], max: xr[1],
      axisLine: { show: true, onZero: false, lineStyle: line },
      axisTick: { show: true, inside: true, customValues: xMaj, length: 10, lineStyle: line },
      axisLabel: { show: false } }),
    base({ position: 'top', min: xr[0], max: xr[1],
      axisLine: { show: false, onZero: false },
      axisTick: { show: true, inside: true, customValues: xMin, length: 5, lineStyle: line },
      axisLabel: { show: false } })
  ];
  const ys = [
    base({ position: 'left', min: yr[0], max: yr[1],
      axisLine: { show: true, onZero: false, lineStyle: line },
      axisTick: { show: true, customValues: yMaj, length: 10, lineStyle: line },
      axisLabel: Object.assign({ show: true, customValues: yMaj, formatter: v => v.toFixed(2) }, lab) }),
    base({ position: 'left', min: yr[0], max: yr[1],
      axisLine: { show: false, onZero: false },
      axisTick: { show: true, customValues: yMin, length: 5, lineStyle: line },
      axisLabel: { show: false } }),
    base({ position: 'right', min: yr[0], max: yr[1],
      axisLine: { show: true, onZero: false, lineStyle: line },
      axisTick: { show: true, inside: true, customValues: yMaj, length: 10, lineStyle: line },
      axisLabel: { show: false } }),
    base({ position: 'right', min: yr[0], max: yr[1],
      axisLine: { show: false, onZero: false },
      axisTick: { show: true, inside: true, customValues: yMin, length: 5, lineStyle: line },
      axisLabel: { show: false } })
  ];
  return { xs, ys };
}

function dots(gi, data, look, size) {
  return {
    type: 'scatter', xAxisIndex: gi * 4, yAxisIndex: gi * 4, data: data,
    symbol: look.symbol, symbolSize: size, silent: true, z: 2,
    itemStyle: { color: look.color, opacity: 0.93 }
  };
}

function fitLine(gi, fx, fy, centre, labelEnd, labelText) {
  return {
    type: 'line', xAxisIndex: gi * 4, yAxisIndex: gi * 4,
    data: fx.map((x, i) => [x, fy[i]]),
    symbol: 'none', showSymbol: false, silent: true, z: 5,
    lineStyle: { color: '#dd4d4b', width: 4 },
    markLine: {
      silent: true, animation: false, symbol: ['none', 'none'],
      lineStyle: { color: '#333', width: 1, type: 'solid' },
      label: { show: true, position: 'end', distance: 2, formatter: labelText,
        fontFamily: '"Liberation Mono", "DejaVu Sans Mono", monospace', fontSize: 13.5, color: '#1e1e1e' },
      data: [[{ coord: centre }, { coord: labelEnd }]]
    }
  };
}

function txt(x, y, text, opts) {
  return Object.assign({ type: 'text', x: x, y: y, silent: true, z: 100,
    style: Object.assign({ text: text, fill: '#222', font: '14px ' + FONT, align: 'left', verticalAlign: 'middle' }, (opts && opts.style) || {}) },
    opts && opts.rotation !== undefined ? { rotation: opts.rotation } : {});
}

function fitTable(bx, by, h, model, values, errors, L) {
  const kids = [];
  kids.push({ type: 'rect', z: 100, shape: { x: bx, y: by, width: 470, height: h }, style: { fill: '#fff', stroke: '#5a5a5a', lineWidth: 1 } });
  kids.push({ type: 'rect', z: 100, shape: { x: bx + 116, y: by + L.hl[0], width: 340, height: L.hl[1] - L.hl[0] }, style: { fill: '#f7e9da' } });
  [L.c1, L.c2, L.c3].forEach(cx => kids.push({ type: 'line', z: 100, shape: { x1: bx + cx, y1: by + 1, x2: bx + cx, y2: by + h - 1 }, style: { stroke: '#f4f4f4', lineWidth: 1 } }));
  L.hr.forEach(ry => kids.push({ type: 'line', z: 100, shape: { x1: bx + 1, y1: by + ry, x2: bx + 460, y2: by + ry }, style: { stroke: '#f5f5f5', lineWidth: 1 } }));
  const C = { align: 'center' }, R = { align: 'right' };
  kids.push(txt(bx + L.col1, by + L.rows[0], 'Model', { style: C }));
  kids.push(txt(bx + L.lor, by + L.rows[0], model[0]));
  kids.push(txt(bx + L.col1, by + L.rows[1], 'Equation', { style: C }));
  kids.push(txt(bx + L.eq, by + L.rows[1], model[1], { style: C }));
  kids.push(txt(bx + L.col1, by + L.rows[2], 'Adj. R-Square', { style: C }));
  kids.push(txt(bx + L.r2, by + L.rows[2], model[2], { style: C }));
  kids.push(txt(bx + L.vh, by + L.rows[3], 'Value', { style: C }));
  kids.push(txt(bx + L.eh, by + L.rows[3], 'Standard Error', { style: C }));
  kids.push(txt(bx + L.col1, by + L.grp, model[3], { style: C }));
  for (let i = 0; i < 4; i++) {
    const ry = by + L.rows[4 + i];
    kids.push(txt(bx + L.par, ry, fitParams[i]));
    kids.push(txt(bx + L.val, ry, values[i], { style: R }));
    kids.push(txt(bx + L.err, ry, errors[i], { style: R }));
  }
  return { type: 'group', silent: true, z: 100, children: kids };
}

function title(x, y, main, sub, tail) {
  // main text, subscript and remainder placed one after another
  return { type: 'text', x: x, y: y, silent: true,
    style: { text: '{m|' + main + '}{s|' + sub + '}{m|' + tail + '}', fill: '#222', align: 'left', verticalAlign: 'middle',
      rich: {
        m: { fontFamily: FONT, fontSize: 30, lineHeight: 30, verticalAlign: 'top', fill: '#222' },
        s: { fontFamily: FONT, fontSize: 18, lineHeight: 18, padding: [18, 1, 0, 0], verticalAlign: 'top', fill: '#222' }
      } } };
}

const A = axesFor(0, [-90, 110], [-0.05, 0.55], aXTicks, aXMinor, aYTicks, aYMinor);
const B = axesFor(1, [-100, 110], [-0.075, 0.625], bXTicks, bXMinor, bYTicks, bYMinor);

const option = {
  animation: false,
  backgroundColor: '#ffffff',
  grid: [
    { left: 155, top: 63, width: 733, height: 584, containLabel: false },
    { left: 150, top: 847, width: 730, height: 583, containLabel: false }
  ],
  xAxis: A.xs.concat(B.xs),
  yAxis: A.ys.concat(B.ys),
  series: [
    dots(0, aTail, LOOK.tail, 8),
    dots(0, aTailMid, LOOK.tail, 8),
    dots(0, aTeal, LOOK.teal, 7),
    dots(0, aNavy, LOOK.navy, 7),
    dots(0, aInnerNavy, LOOK.navy, 8),
    dots(0, aGreen, LOOK.green, 7),
    dots(0, aBlack, LOOK.black, 7),
    dots(0, aInnerBlack, LOOK.black, 8),
    dots(0, aSky, LOOK.sky, 6),
    dots(0, aLime, LOOK.lime, 7),
    dots(0, aPink, LOOK.pink, 7),
    dots(0, aGold, LOOK.gold, 8),
    fitLine(0, aFitX, aFitY, aCentre, [12, 0.515], '(0, 0.50202)  Normalized centre'),
    dots(1, bTail, LOOK.tail, 8),
    dots(1, bTailMid, LOOK.tail, 8),
    dots(1, bTeal, LOOK.teal, 7),
    dots(1, bNavy, LOOK.navy, 7),
    dots(1, bInnerNavy, LOOK.navy, 8),
    dots(1, bGreen, LOOK.green, 7),
    dots(1, bBlack, LOOK.black, 7),
    dots(1, bInnerBlack, LOOK.black, 8),
    dots(1, bSky, LOOK.sky, 6),
    dots(1, bGold, LOOK.gold, 8),
    dots(1, bPink, LOOK.pink, 7),
    dots(1, bBlue, LOOK.blue, 7),
    fitLine(1, bFitX, bFitY, bCentre, [24.4, 0.5785], '(0, 0.55962)  Normalized centre')
  ],
  graphic: { elements: [
    txt(28, 20, '(a)', { style: { font: 'bold 28px ' + FONT } }),
    txt(20, 806, '(b)', { style: { font: 'bold 28px ' + FONT } }),
    title(291, 25, 'DFB Sphere Modes at V', 'coup', '=10.3 V'),
    title(294, 808, 'DFB Sphere Modes at V', 'coup', '=11.3 V'),
    txt(27, 376, 'Normalized Amplitude (V)', { rotation: Math.PI / 2, style: { font: '30px ' + FONT, align: 'center' } }),
    txt(24, 1160, 'Normalized Amplitude (V)', { rotation: Math.PI / 2, style: { font: '30px ' + FONT, align: 'center' } }),
    txt(521, 726, 'Detuning from mode centre (MHz)', { style: { font: '30px ' + FONT, align: 'center' } }),
    txt(515, 1508, 'Detuning from mode centre (MHz)', { style: { font: '30px ' + FONT, align: 'center' } }),
    fitTable(554, 172, 239, aFitModel, aFitValues, aFitErrors,
      { rows: [11, 56, 106, 136, 159, 181, 204, 226], grp: 192, hl: [194, 215], col1: 58, lor: 148, eq: 282, r2: 198,
        par: 166, val: 308, vh: 272, err: 444, eh: 381, c1: 114, c2: 231, c3: 316, hr: [34, 81, 124] }),
    fitTable(576, 953, 254, bFitModel, bFitValues, bFitErrors,
      { rows: [12, 57, 108, 145, 175, 198, 220, 243], grp: 208, hl: [210, 231], col1: 57, lor: 149, eq: 281, r2: 205,
        par: 168, val: 311, vh: 275, err: 428, eh: 375, c1: 114, c2: 232, c3: 316, hr: [35, 83, 128] })
  ] }
};

const chart = echarts.init(document.getElementById('chart'), null, { renderer: 'canvas', width: 999, height: 1526 });
chart.setOption(option);
</script>
</body>
</html>
